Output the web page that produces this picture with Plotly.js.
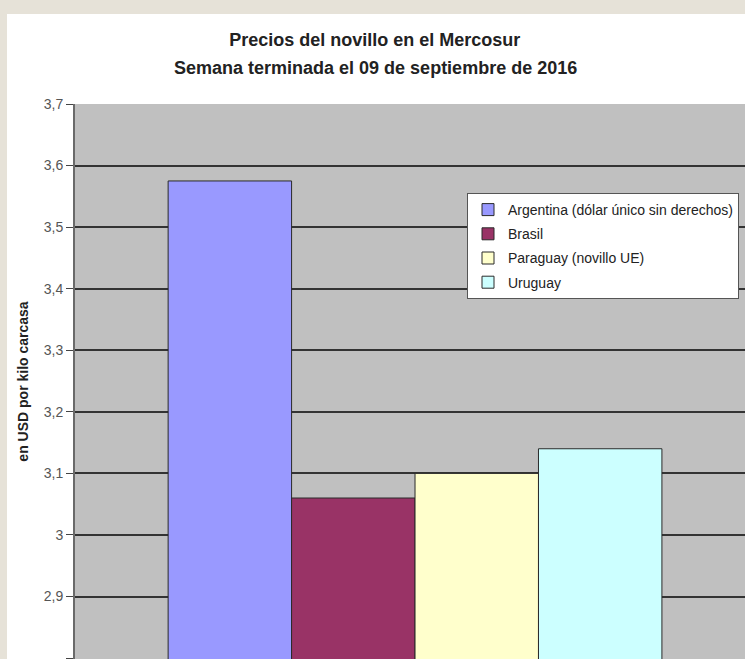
<!DOCTYPE html>
<html>
<head>
<meta charset="utf-8">
<script src="https://cdn.plot.ly/plotly-3.0.1.min.js"></script>
<style>
html,body{margin:0;padding:0;width:745px;height:659px;overflow:hidden;background:#e6e2d8;}
#bg{position:absolute;left:7px;top:14px;width:738px;height:645px;background:#ffffff;}
#chart{position:absolute;left:0;top:0;width:745px;height:659px;}
</style>
</head>
<body>
<div id="bg"></div>
<div id="chart"></div>
<script>
const titleLine1 = "Precios del novillo en el Mercosur";
const titleLine2 = "Semana terminada el 09 de septiembre de 2016";
const yAxisTitle = "en USD por kilo carcasa";
const seriesNames = ["Argentina (dólar único sin derechos)", "Brasil", "Paraguay (novillo UE)", "Uruguay"];
const seriesValues = [3.575, 3.06, 3.10, 3.14];
const seriesColors = ["#9999FF", "#993366", "#FFFFCC", "#CCFFFF"];
const category = [""];
const yTicks = [2.8, 2.9, 3.0, 3.1, 3.2, 3.3, 3.4, 3.5, 3.6, 3.7];
const yTickText = ["2,8", "2,9", "3", "3,1", "3,2", "3,3", "3,4", "3,5", "3,6", "3,7"];

const FONT = "Liberation Sans, Arial, sans-serif";

const traces = seriesNames.map((n, i) => ({
  type: "bar",
  name: n,
  x: category,
  y: [seriesValues[i]],
  marker: {color: seriesColors[i], line: {color: "#2a2a2a", width: 1}},
  legendgroup: "g" + i,
  hoverinfo: "name+y"
}));

const layout = {
  width: 745, height: 659,
  paper_bgcolor: "rgba(0,0,0,0)",
  plot_bgcolor: "#C0C0C0",
  margin: {l: 75, r: 0, t: 104, b: 0},
  barmode: "group",
  bargap: 0.263,
  bargroupgap: 0,
  title: {
    text: "<b>" + titleLine1 + "</b>",
    font: {family: FONT, size: 18, color: "#222222"},
    x: 0.503, xanchor: "center", y: 1 - 40/659, yanchor: "middle"
  },
  annotations: [{
    text: "<b>" + titleLine2 + "</b>",
    xref: "paper", yref: "paper",
    x: (375 - 75) / 670, y: 1 + (104 - 68) / 555,
    xanchor: "center", yanchor: "middle", showarrow: false,
    font: {family: FONT, size: 18, color: "#222222"}
  }],
  xaxis: {
    type: "category",
    range: [-0.5075, 0.4925],
    showticklabels: false, ticks: "", showgrid: false, zeroline: false,
    showline: false, fixedrange: true
  },
  yaxis: {
    range: [2.7985, 3.7],
    tickvals: yTicks, ticktext: yTickText,
    ticks: "outside", ticklen: 7, tickcolor: "#444444", tickwidth: 1,
    tickfont: {family: FONT, size: 14, color: "#555555"},
    showgrid: true, gridcolor: "#333333", gridwidth: 2,
    showline: true, linecolor: "#6a6a6a", linewidth: 2,
    zeroline: false,
    title: {
      text: "<b>" + yAxisTitle + "</b>",
      font: {family: FONT, size: 14, color: "#222222"},
      standoff: 12
    }
  },
  showlegend: true,
  legend: {
    x: (467 - 75) / 670, xanchor: "left", y: 1 - (193 - 104) / 555, yanchor: "top",
    bgcolor: "#ffffff", bordercolor: "#555555", borderwidth: 1,
    font: {family: FONT, size: 14, color: "#222222"},
    tracegroupgap: 3, itemwidth: 30, traceorder: "grouped"
  }
};

Plotly.newPlot("chart", traces, layout, {displayModeBar: false, staticPlot: true});
</script>
</body>
</html>
